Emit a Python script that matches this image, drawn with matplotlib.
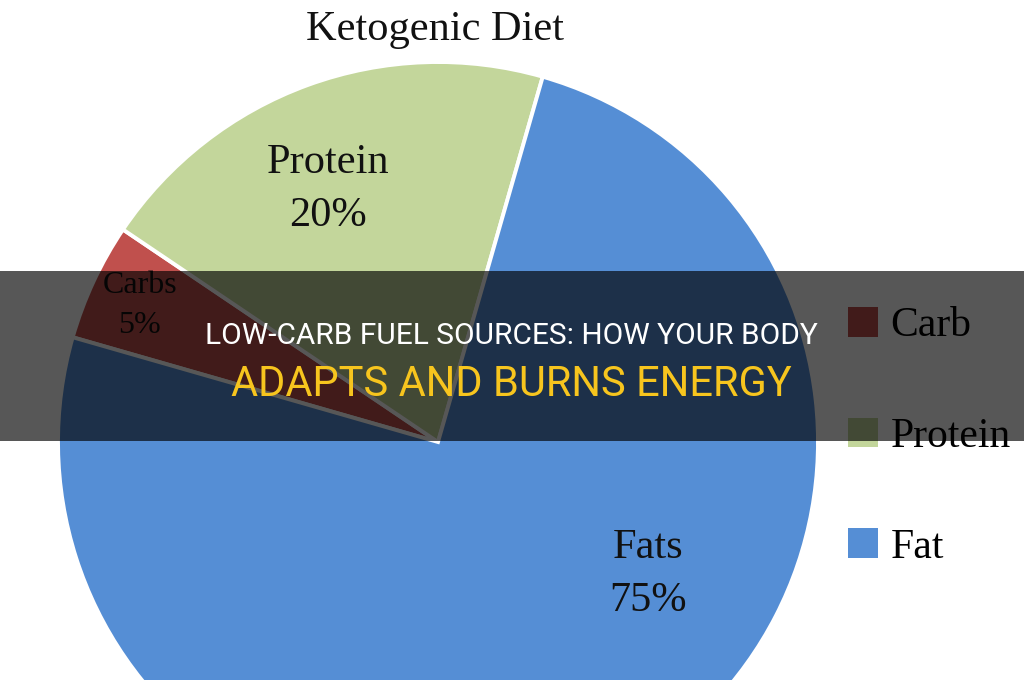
import matplotlib
matplotlib.use("Agg")
import matplotlib.pyplot as plt
from matplotlib.patches import Rectangle

# ---- data ----
categories = ["Carb", "Protein", "Fat"]
slice_labels = ["Carbs", "Protein", "Fats"]
values = [5, 20, 75]
colors = ["#C0504D", "#C3D69B", "#558ED5"]
title = "Ketogenic Diet"
banner_line1 = "LOW-CARB FUEL SOURCES: HOW YOUR BODY"
banner_line2 = "ADAPTS AND BURNS ENERGY"

W, H = 1024, 680
fig = plt.figure(figsize=(W / 100, H / 100), dpi=100)
ax = fig.add_axes([0, 0, 1, 1])

def py(y):  # pixel row -> data y
    return H - y

cx, cy, R = 438, py(442), 380
wedges, _ = ax.pie(values, colors=colors, startangle=164, counterclock=False,
                   center=(cx, cy), radius=R,
                   wedgeprops=dict(edgecolor="white", linewidth=2.8))
ax.set_xlim(0, W)
ax.set_ylim(0, H)
ax.set_aspect("equal")
ax.axis("off")

serif = ["Liberation Serif", "DejaVu Serif"]

# title
ax.text(435, py(40), title, ha="center", va="baseline", fontsize=30.5,
        family=serif, color="#111111")

# slice labels
pct = [f"{v}%" for v in values]
label_pos = [(140, 293, 23), (328, 173, 30.5), (648, 558, 30.5)]
for name, p, (x, yb, fs) in zip(slice_labels, pct, label_pos):
    ax.text(x, py(yb), name, ha="center", va="baseline", fontsize=fs,
            family=serif, color="#111111")
    dy = 40 if fs < 25 else 53
    ax.text(x, py(yb + dy), p, ha="center", va="baseline", fontsize=fs,
            family=serif, color="#111111")

# legend
leg = ax.legend(wedges, categories, loc="upper left",
                bbox_to_anchor=(848 / W, 1 - 307 / H), bbox_transform=fig.transFigure,
                frameon=False, prop=dict(family=serif, size=30),
                handlelength=0.72, handleheight=0.72, handletextpad=0.3,
                labelspacing=1.73, borderpad=0, borderaxespad=0)
for h in leg.legend_handles:
    h.set_edgecolor("none")
leg.set_zorder(2)

# banner
ax.add_patch(Rectangle((0, py(441)), W, 441 - 271, facecolor="black",
                       alpha=0.66, edgecolor="none", zorder=10))
ax.text(511, py(344), banner_line1, ha="center", va="baseline", fontsize=21.5,
        family=["Roboto", "DejaVu Sans"], color="white", zorder=11)
ax.text(511, py(396), banner_line2, ha="center", va="baseline", fontsize=30,
        family=["Roboto", "DejaVu Sans"], color="#F7C51E", zorder=11)

fig.savefig("out.png", dpi=100)
